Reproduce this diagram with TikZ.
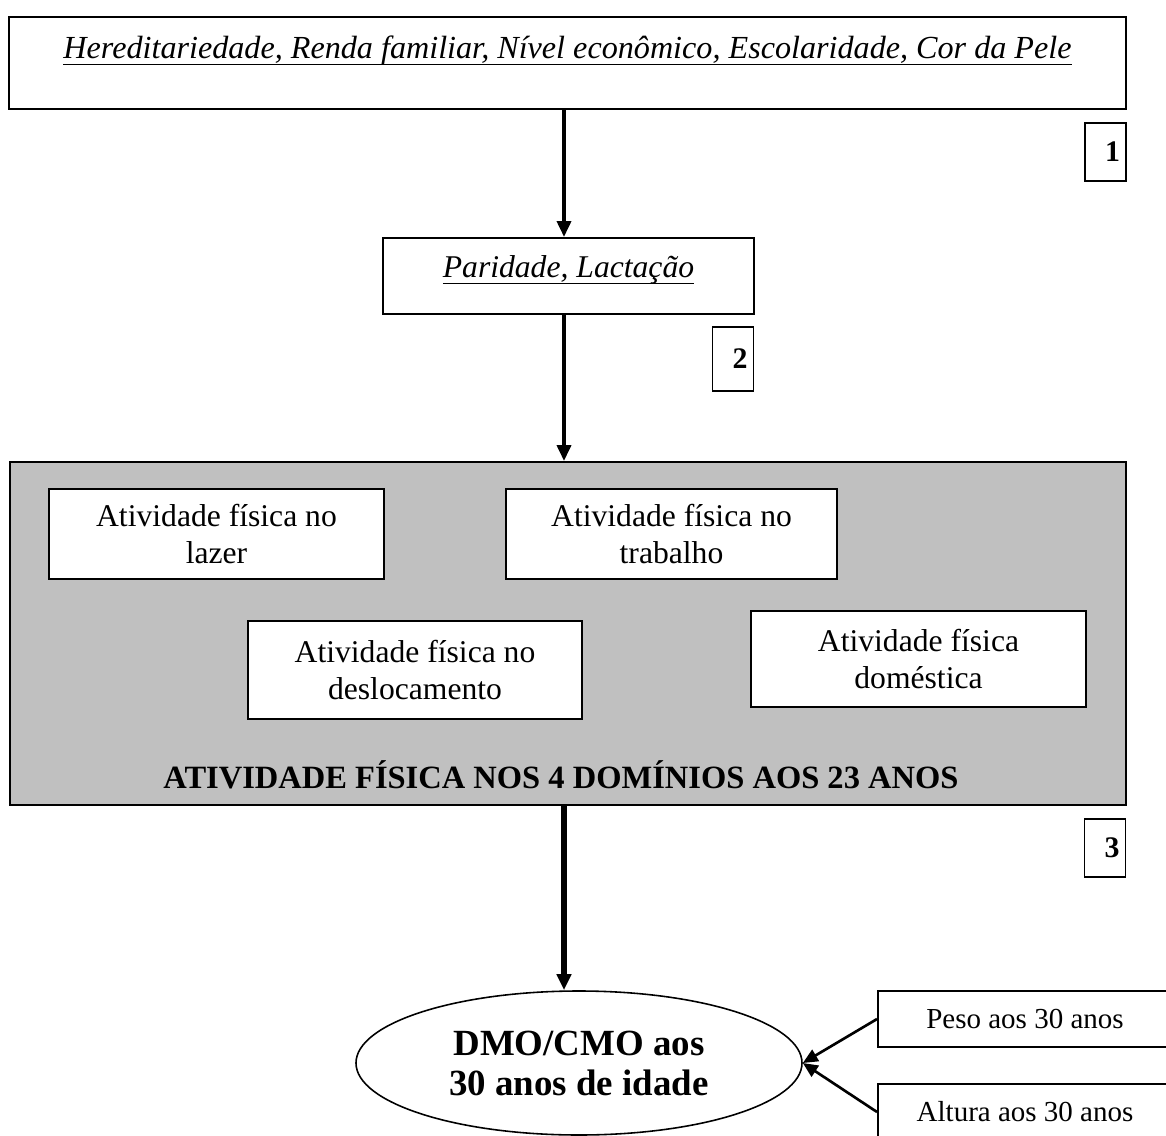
\documentclass[tikz,border=0pt]{standalone}
\usepackage{fontspec}
\setmainfont{Liberation Serif}
\usepackage{tikz}
\usetikzlibrary{arrows.meta,shapes.geometric}
\definecolor{box_gray}{HTML}{C0C0C0}
\newcommand{\sublinha}[1]{\setbox0\hbox{#1}\rlap{\rule[-0.2em]{\wd0}{1pt}}\box0}

\begin{document}
\begin{tikzpicture}[x=0.2mm, y=-0.2mm,
	caixa/.style={draw, line width=1.1pt, fill=white, align=center, font=\fontsize{18}{20.7}\selectfont},
	numero/.style={draw, line width=1.1pt, inner xsep=1.2mm, text width=5.8mm, align=right, minimum height=11.6mm, font=\fontsize{17}{20}\selectfont\bfseries},
	seta/.style={line width=2.1pt, -{Triangle[length=3.2mm, width=2.8mm]}},
	seta_lado/.style={line width=1.5pt, -{Triangle[length=3mm, width=2.6mm]}},
	]
	\useasboundingbox (0, 0) rectangle (1166, 1136);
	\coordinate (eixo) at (564, 0);
	\node[caixa, anchor=north, minimum width=223.4mm, inner ysep=0pt, text height=8.4mm, text depth=10mm, font=\fontsize{18.3}{21}\selectfont] (fatores) at (567.5, 16) {\sublinha{\textit{Hereditariedade, Renda familiar, Nível econômico, Escolaridade, Cor da Pele}}};
	\node[numero, minimum width=8.2mm] (n1) at (1105.5, 152) {1};
	\node[caixa, anchor=north, minimum width=74.2mm, inner ysep=0pt, text height=8mm, text depth=7.2mm] (paridade) at (568.5, 237) {\sublinha{\textit{Paridade, Lactação}}};
	\node[numero, minimum width=8.2mm, minimum height=12.8mm] (n2) at (733, 359) {2};
	\node[draw, fill=box_gray, line width=1.1pt, minimum width=223.2mm, minimum height=68.6mm] (dominios) at (568, 633.5) {};
	\node[caixa, minimum width=67mm, minimum height=18mm] (lazer) at (216.5, 534) {Atividade física no\\lazer};
	\node[caixa, minimum width=66.2mm, minimum height=18mm] (trabalho) at (671.5, 534) {Atividade física no\\trabalho};
	\node[caixa, minimum width=66.8mm, minimum height=19.6mm] (deslocamento) at (415, 670) {Atividade física no\\deslocamento};
	\node[caixa, minimum width=67mm, minimum height=19.2mm] (domestica) at (918.5, 659) {Atividade física\\doméstica};
	\node[anchor=base, font=\fontsize{18.5}{21}\selectfont\bfseries] (titulo) at (561, 788) {ATIVIDADE FÍSICA NOS 4 DOMÍNIOS AOS 23 ANOS};
	\node[numero, minimum width=8.2mm] (n3) at (1105, 848) {3};
	\node[ellipse, draw, line width=0.9pt, minimum width=89.2mm, minimum height=28.8mm, align=center, font=\fontsize{21}{22.75}\selectfont\bfseries] (dmo) at (579, 1063) {DMO/CMO aos\\30 anos de idade};
	\node[caixa, font=\fontsize{16.5}{19}\selectfont, minimum width=58.8mm, minimum height=11.2mm] (peso) at (1025, 1019) {Peso aos 30 anos};
	\node[caixa, font=\fontsize{16.5}{19}\selectfont, minimum width=58.8mm, minimum height=11.2mm] (altura) at (1025, 1112) {Altura aos 30 anos};
	\draw[seta] (fatores.south -| eixo) -- (paridade.north -| eixo);
	\draw[seta] (paridade.south -| eixo) -- (dominios.north -| eixo);
	\draw[seta, line width=3.2pt] (dominios.south -| eixo) -- (dmo.north -| eixo);
	\draw[seta_lado] (peso.west) -- (dmo.east);
	\draw[seta_lado] (altura.west) -- (dmo.east);
\end{tikzpicture}
\end{document}
